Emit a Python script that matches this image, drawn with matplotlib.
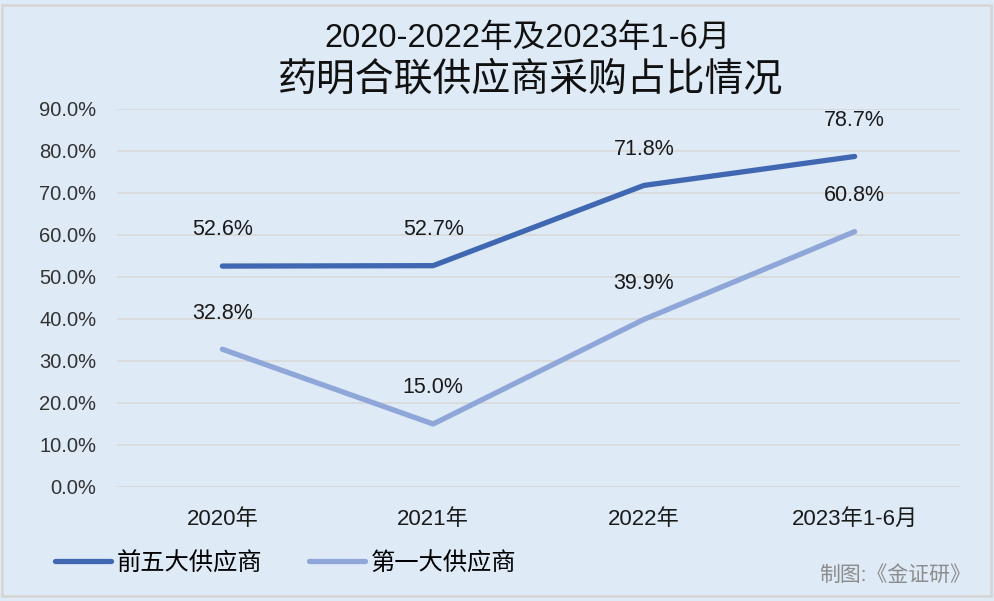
import matplotlib
matplotlib.use("Agg")
import matplotlib.pyplot as plt
from matplotlib.patches import Rectangle

plt.rcParams['font.family'] = ['Liberation Sans', 'Noto Sans CJK SC', 'DejaVu Sans']

# data
categories = ["2020年", "2021年", "2022年", "2023年1-6月"]
top5 = [52.6, 52.7, 71.8, 78.7]
top1 = [32.8, 15.0, 39.9, 60.8]
series_names = ["前五大供应商", "第一大供应商"]
yticks = [0, 10, 20, 30, 40, 50, 60, 70, 80, 90]

bg = "#DEEAF6"
dark = "#4068B2"
light = "#8FA7D8"

fig = plt.figure(figsize=(9.95, 6.01), dpi=100, facecolor=bg)
ax = fig.add_axes([117/995, 1-487/601, (960-117)/995, (487-109)/601])
ax.set_facecolor(bg)

x = list(range(len(categories)))
ax.plot(x, top5, color=dark, lw=3.8, solid_capstyle="round", solid_joinstyle="round", label=series_names[0], zorder=3)
ax.plot(x, top1, color=light, lw=3.8, solid_capstyle="round", solid_joinstyle="round", label=series_names[1], zorder=3)

# data labels above each point
for xi, v in zip(x, top5):
    ax.annotate(f"{v:.1f}%", (xi, v), xytext=(0, 26), textcoords="offset points",
                ha="center", va="center", fontsize=15.5, color="#1a1a1a")
for xi, v in zip(x, top1):
    ax.annotate(f"{v:.1f}%", (xi, v), xytext=(0, 26), textcoords="offset points",
                ha="center", va="center", fontsize=15.5, color="#1a1a1a")

ax.set_xlim(-0.5, len(categories) - 0.5)
ax.set_ylim(0, 90)
ax.set_yticks(yticks)
ax.set_yticklabels([f"{t:.1f}%" for t in yticks], fontsize=14.5, color="#333333")
ax.set_xticks(x)
ax.set_xticklabels(categories, fontsize=16, color="#1a1a1a")
ax.tick_params(axis="y", length=0, pad=15)
ax.tick_params(axis="x", length=0, pad=16)
ax.grid(axis="y", color="#D9D9D9", lw=1.2)
ax.set_axisbelow(True)
for s in ax.spines.values():
    s.set_visible(False)

# title
fig.text(528/995, 1-38/601, "2020-2022年及2023年1-6月", ha="center", va="center", fontsize=23.5, color="#111111")
fig.text(530/995, 1-80/601, "药明合联供应商采购占比情况", ha="center", va="center", fontsize=28, color="#111111")

# legend
fig.legend(loc="center left", bbox_to_anchor=(55/995, 1-563/601), ncol=2, frameon=False,
           fontsize=17.5, handlelength=2.3, handletextpad=0.25, columnspacing=1.9,
           borderpad=0, borderaxespad=0)

fig.text(971/995, 1-575/601, "制图:《金证研》", ha="right", va="center", fontsize=15, color="#8C8C8C")

# outer border
fig.patches.append(Rectangle((2.5/995, 5/601), 989/995, 591/601, transform=fig.transFigure,
                             fill=False, edgecolor="#D6D6D6", lw=2))

fig.savefig("out.png", dpi=100, facecolor=bg)
